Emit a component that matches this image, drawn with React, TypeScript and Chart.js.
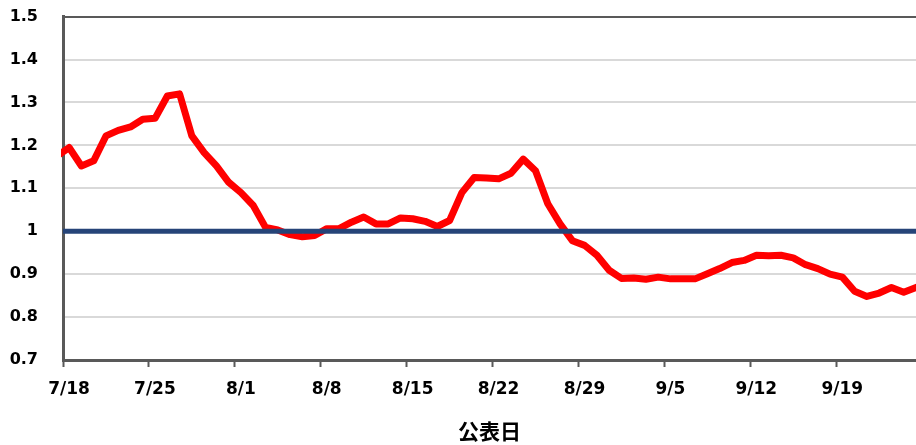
import React, { useEffect, useRef } from "react";
import { Chart, registerables } from "chart.js";

Chart.register(...registerables);

// Dates (公表日); the first entry (7/17) lies just left of the visible axis
const dates: string[] = [
  "7/17",
  "7/18", "7/19", "7/20", "7/21", "7/22", "7/23", "7/24",
  "7/25", "7/26", "7/27", "7/28", "7/29", "7/30", "7/31",
  "8/1", "8/2", "8/3", "8/4", "8/5", "8/6", "8/7",
  "8/8", "8/9", "8/10", "8/11", "8/12", "8/13", "8/14",
  "8/15", "8/16", "8/17", "8/18", "8/19", "8/20", "8/21",
  "8/22", "8/23", "8/24", "8/25", "8/26", "8/27", "8/28",
  "8/29", "8/30", "8/31", "9/1", "9/2", "9/3", "9/4",
  "9/5", "9/6", "9/7", "9/8", "9/9", "9/10", "9/11",
  "9/12", "9/13", "9/14", "9/15", "9/16", "9/17", "9/18",
  "9/19", "9/20", "9/21", "9/22", "9/23", "9/24", "9/25",
];

const values: number[] = [
  1.175,
  1.195, 1.152, 1.164, 1.222, 1.235, 1.243, 1.261,
  1.263, 1.315, 1.320, 1.222, 1.183, 1.152, 1.114,
  1.090, 1.060, 1.009, 1.003, 0.992, 0.987, 0.990,
  1.006, 1.006, 1.021, 1.033, 1.017, 1.017, 1.031,
  1.029, 1.023, 1.011, 1.025, 1.090, 1.125, 1.124,
  1.122, 1.135, 1.168, 1.141, 1.064, 1.017, 0.978,
  0.967, 0.944, 0.909, 0.890, 0.891, 0.888, 0.893,
  0.889, 0.889, 0.889, 0.901, 0.913, 0.927, 0.932,
  0.944, 0.943, 0.944, 0.938, 0.922, 0.913, 0.900,
  0.893, 0.860, 0.848, 0.856, 0.869, 0.858, 0.869,
];

const tickLabels: string[] = ["7/18", "7/25", "8/1", "8/8", "8/15", "8/22", "8/29", "9/5", "9/12", "9/19"];

const referenceValue = 1;
const yMin = 0.7;
const yMax = 1.5;
const yStep = 0.1;
const daysPerTick = 7;
const firstVisibleIndex = 1; // 7/18
const visibleDays = dates.length - firstVisibleIndex;

const SHIFT = 18;

export default function App() {
  const canvasRef = useRef<HTMLCanvasElement | null>(null);

  useEffect(() => {
    if (!canvasRef.current) return;
    const pts = values.map((v, i) => ({ x: i - firstVisibleIndex + 0.5, y: v }));
    const xMax = visibleDays - 0.5;
    const chart = new Chart(canvasRef.current, {
      type: "line",
      data: {
        datasets: [
          {
            label: "基準",
            data: [
              { x: 0, y: referenceValue },
              { x: xMax, y: referenceValue },
            ],
            borderColor: "#264478",
            borderWidth: 5,
            pointRadius: 0,
            order: 0,
          },
          {
            label: "実効再生産数",
            data: pts,
            borderColor: "#ff0000",
            borderWidth: 7,
            pointRadius: 0,
            tension: 0,
            borderJoinStyle: "round",
            borderCapStyle: "round",
            order: 1,
            clip: { left: 2, top: 0, right: 0, bottom: 0 } as any,
          },
        ],
      },
      options: {
        responsive: false,
        animation: false,
        devicePixelRatio: 1,
        layout: { padding: { top: 0, left: 0, right: 0, bottom: 0 } },
        plugins: {
          legend: { display: false },
          tooltip: { enabled: false },
          title: { display: false },
        },
        scales: {
          x: {
            type: "linear",
            min: 0,
            max: xMax,
            afterBuildTicks: (scale: any) => {
              scale.ticks = tickLabels.map((_, k) => ({ value: k * daysPerTick }));
            },
            afterFit: (scale: any) => {
              scale.height = 85;
            },
            grid: {
              drawOnChartArea: false,
              drawTicks: true,
              tickLength: 7,
              tickColor: "#595959",
              tickWidth: 2,
            },
            border: { color: "#595959", width: 3 },
            ticks: {
              autoSkip: false,
              maxRotation: 0,
              minRotation: 0,
              labelOffset: 6,
              padding: 12,
              color: "#000000",
              font: { family: "'DejaVu Sans'", size: 17, weight: "bold" },
              callback: (_v: any, index: number) => tickLabels[index],
            },
            title: {
              display: true,
              text: "公表日",
              color: "#000000",
              font: { family: "'Noto Sans CJK JP'", size: 21, weight: "bold" },
              padding: { top: 0, bottom: 1 },
            },
          },
          y: {
            type: "linear",
            min: yMin,
            max: yMax,
            afterFit: (scale: any) => {
              scale.width = 63;
            },
            grid: {
              drawTicks: false,
              lineWidth: 2,
              color: (ctx: any) =>
                Math.abs(ctx.tick.value - yMax) < 1e-6 ? "#595959" : "#d9d9d9",
            },
            border: { color: "#595959", width: 3 },
            ticks: {
              stepSize: yStep,
              padding: 25,
              color: "#000000",
              font: { family: "'DejaVu Sans'", size: 16, weight: "bold" },
              callback: (v: any) => String(Math.round(Number(v) * 10) / 10),
            },
          },
        },
      },
    });
    return () => chart.destroy();
  }, []);

  return (
    <div style={{ position: "absolute", left: 0, top: 0, width: 916, height: 445, overflow: "hidden", background: "#ffffff" }}>
      <canvas
        ref={canvasRef}
        width={916}
        height={445 + SHIFT}
        style={{ display: "block", position: "absolute", left: 0, top: -SHIFT }}
      />
    </div>
  );
}
